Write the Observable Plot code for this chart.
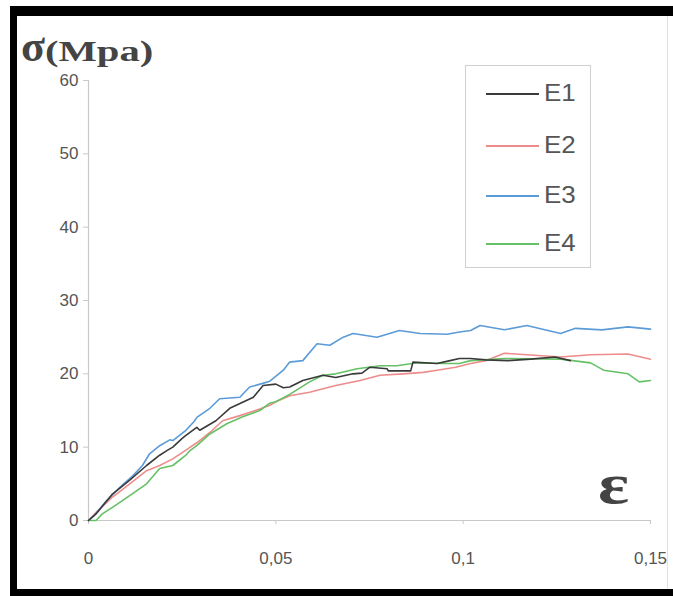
<!DOCTYPE html>
<html>
<head>
<meta charset="utf-8">
<script src="https://cdn.jsdelivr.net/npm/d3@7"></script>
<script src="https://cdn.jsdelivr.net/npm/@observablehq/plot@0.6"></script>
<style>
  html, body { margin: 0; padding: 0; background: #fff; }
  #wrap { position: relative; width: 673px; height: 596px; overflow: hidden; background: #fff; }
  #wrap svg { position: absolute; left: 0; top: 0; }
  .bar { position: absolute; background: #000; }
  #title { position: absolute; left: 21px; top: 21px; font-family: "Liberation Serif", serif; font-weight: bold; color: #444; white-space: nowrap; }
  #title .sig { font-size: 44px; }
  #title .unit { font-size: 29px; display: inline-block; transform: scaleX(1.4); transform-origin: left center; }
  #eps { position: absolute; left: 598px; top: 452px; font-family: "Liberation Serif", serif; font-weight: bold; font-size: 56px; color: #444; transform: scaleX(1.3); transform-origin: left center; }
  #legend { position: absolute; left: 465px; top: 65px; width: 126px; height: 203px; border: 1px solid #d0d0d0; background: #fff; box-sizing: border-box; }
  .item { position: absolute; left: 0; height: 26px; width: 122px; }
  .item .ln { position: absolute; left: 20px; top: 13px; width: 53px; height: 2px; }
  .item .tx { position: absolute; left: 78px; top: 0; font-family: "Liberation Sans", Arial, sans-serif; font-size: 24px; color: #555; line-height: 26px; display: inline-block; transform: scaleX(1.08); transform-origin: left center; }
</style>
</head>
<body>
<div id="wrap"></div>
<script>
// ---- data ----
const seriesNames = ["E1", "E2", "E3", "E4"];
const seriesColors = ["#3a3a3a", "#ee8c8c", "#5b9bd8", "#66c066"];

const e1x = [0, 0.002, 0.0064, 0.011, 0.0155, 0.019, 0.0208, 0.0225, 0.025, 0.026, 0.0289, 0.0297, 0.034, 0.0377, 0.041, 0.044, 0.0466, 0.05, 0.052, 0.0537, 0.0572, 0.0626, 0.066, 0.0706, 0.073, 0.0751, 0.0797, 0.08, 0.086, 0.0866, 0.093, 0.0965, 0.099, 0.102, 0.106, 0.112, 0.118, 0.1245, 0.1286];
const e1y = [0, 0.9, 3.6, 5.5, 7.5, 8.9, 9.5, 10.0, 11.2, 11.6, 12.7, 12.3, 13.6, 15.3, 16.1, 16.8, 18.4, 18.6, 18.1, 18.2, 19.1, 19.8, 19.5, 20.0, 20.1, 20.9, 20.7, 20.4, 20.4, 21.6, 21.4, 21.8, 22.1, 22.1, 21.9, 21.8, 22.0, 22.3, 21.8];

const e2x = [0, 0.002, 0.0064, 0.011, 0.0155, 0.019, 0.0225, 0.026, 0.0289, 0.0324, 0.0358, 0.0404, 0.0457, 0.0484, 0.05, 0.0537, 0.059, 0.066, 0.0725, 0.0778, 0.084, 0.0893, 0.093, 0.098, 0.102, 0.106, 0.111, 0.117, 0.126, 0.134, 0.144, 0.15];
const e2y = [0, 1.1, 3.2, 5.0, 6.8, 7.5, 8.4, 9.6, 10.6, 12.0, 13.6, 14.3, 15.2, 15.7, 16.2, 17.0, 17.5, 18.4, 19.1, 19.8, 20.0, 20.2, 20.5, 20.9, 21.4, 21.8, 22.8, 22.6, 22.3, 22.6, 22.7, 22.0];

const e3x = [0, 0.0016, 0.0048, 0.0083, 0.0118, 0.0144, 0.0163, 0.019, 0.0217, 0.0225, 0.026, 0.028, 0.029, 0.0324, 0.035, 0.0404, 0.043, 0.0465, 0.0484, 0.052, 0.0537, 0.0572, 0.061, 0.0644, 0.068, 0.0706, 0.077, 0.083, 0.0885, 0.0957, 0.099, 0.102, 0.1045, 0.111, 0.117, 0.126, 0.13, 0.137, 0.144, 0.15];
const e3y = [0, 0.7, 2.7, 4.5, 6.1, 7.5, 9.1, 10.2, 11.0, 10.9, 12.3, 13.4, 14.1, 15.3, 16.6, 16.8, 18.2, 18.7, 19.0, 20.5, 21.6, 21.8, 24.1, 23.9, 25.0, 25.5, 25.0, 25.9, 25.5, 25.4, 25.7, 25.9, 26.6, 26.0, 26.6, 25.5, 26.2, 26.0, 26.4, 26.1];

const e4x = [0, 0.002, 0.0037, 0.0064, 0.011, 0.0155, 0.019, 0.0225, 0.026, 0.027, 0.0289, 0.0324, 0.0369, 0.041, 0.0457, 0.0484, 0.05, 0.0537, 0.059, 0.0626, 0.066, 0.0717, 0.0778, 0.0823, 0.0877, 0.0947, 0.099, 0.102, 0.111, 0.126, 0.134, 0.1375, 0.144, 0.147, 0.15];
const e4y = [0, 0, 0.9, 1.8, 3.4, 5.0, 7.1, 7.5, 8.9, 9.5, 10.2, 11.8, 13.2, 14.1, 15.0, 16.0, 16.2, 17.2, 18.9, 19.8, 20.0, 20.7, 21.1, 21.1, 21.5, 21.4, 21.4, 21.8, 22.1, 22.0, 21.5, 20.5, 20.0, 18.9, 19.1];

const xTicks = [0, 0.05, 0.1, 0.15];
const xTickLabels = ["0", "0,05", "0,1", "0,15"];
const yTicks = [0, 10, 20, 30, 40, 50, 60];

// ---- build table ----
const allX = [e1x, e2x, e3x, e4x];
const allY = [e1y, e2y, e3y, e4y];
const rows = [];
seriesNames.forEach((name, i) => {
  allX[i].forEach((x, j) => rows.push({ series: name, x, y: allY[i][j] }));
});
const drawOrder = ["E2", "E4", "E3", "E1"];

const axisGray = "#c8c8c8";
const chart = Plot.plot({
  width: 673,
  height: 596,
  marginLeft: 88,
  marginRight: 23,
  marginTop: 80,
  marginBottom: 76,
  style: { background: "transparent", fontFamily: "'Liberation Sans', Arial, sans-serif" },
  x: { domain: [0, 0.15] },
  y: { domain: [0, 60] },
  color: { domain: seriesNames, range: seriesColors },
  marks: [
    Plot.ruleX([0], { stroke: axisGray, strokeWidth: 1.2, y1: 0, y2: 60 }),
    Plot.ruleY([0], { stroke: axisGray, strokeWidth: 1.2 }),
    Plot.axisY({ ticks: yTicks, tickSize: 5, tickPadding: 5, stroke: axisGray, fill: "#555", fontSize: 17, label: null }),
    Plot.axisX({ ticks: xTicks, tickFormat: (d) => xTickLabels[xTicks.indexOf(d)], tickSize: 4, tickPadding: 27, stroke: axisGray, fill: "#555", fontSize: 17, label: null }),
    ...drawOrder.map((s) =>
      Plot.line(rows.filter((r) => r.series === s), { x: "x", y: "y", stroke: "series", strokeWidth: 1.6, curve: "linear" })
    )
  ]
});

const wrap = document.getElementById("wrap");
wrap.appendChild(chart);

// title & axis symbol
const title = document.createElement("div");
title.id = "title";
title.innerHTML = '<span class="sig">σ</span><span class="unit">(Mpa)</span>';
wrap.appendChild(title);
const eps = document.createElement("div");
eps.id = "eps";
eps.textContent = "ε";
wrap.appendChild(eps);

// legend
const legend = document.createElement("div");
legend.id = "legend";
const itemTops = [14, 66, 116, 164];
seriesNames.forEach((name, i) => {
  const it = document.createElement("div");
  it.className = "item";
  it.style.top = itemTops[i] + "px";
  const ln = document.createElement("div");
  ln.className = "ln";
  ln.style.background = seriesColors[i];
  const tx = document.createElement("div");
  tx.className = "tx";
  tx.textContent = name;
  it.appendChild(ln);
  it.appendChild(tx);
  legend.appendChild(it);
});
wrap.appendChild(legend);

// frame of the scanned figure
const bars = [
  { left: 10, top: 6, width: 663, height: 10 },
  { left: 10, top: 6, width: 7, height: 590 },
  { left: 10, top: 589, width: 663, height: 7 }
];
bars.forEach((b) => {
  const d = document.createElement("div");
  d.className = "bar";
  Object.assign(d.style, { left: b.left + "px", top: b.top + "px", width: b.width + "px", height: b.height + "px" });
  wrap.appendChild(d);
});
const rline = document.createElement("div");
Object.assign(rline.style, { position: "absolute", left: "667px", top: "16px", width: "1px", height: "573px", background: "#e2e2e2" });
wrap.appendChild(rline);
</script>
</body>
</html>
